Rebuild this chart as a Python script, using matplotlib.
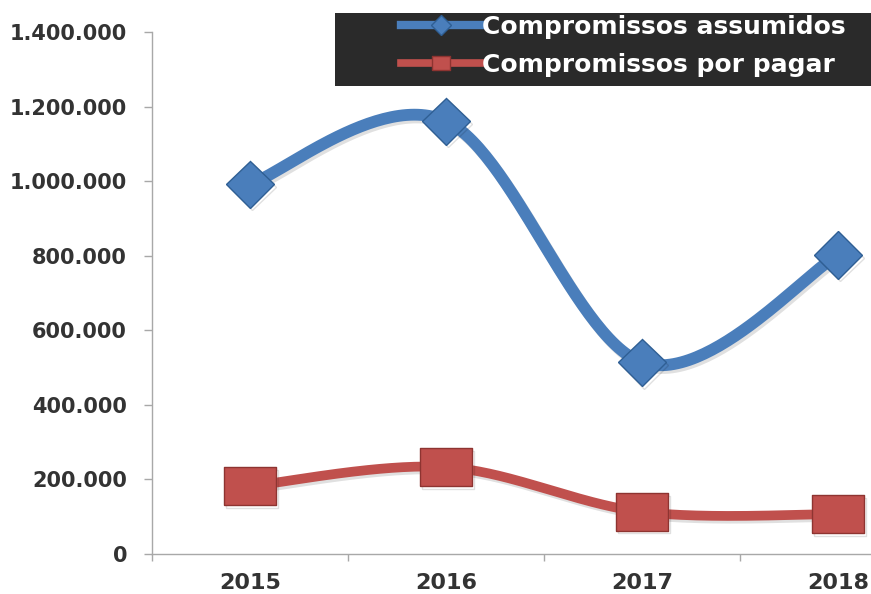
import numpy as np
import matplotlib
matplotlib.use("Agg")
import matplotlib.pyplot as plt
from matplotlib.lines import Line2D
from matplotlib.patches import Rectangle
from matplotlib.ticker import FuncFormatter, FixedLocator
import matplotlib.patheffects as pe

years = ["2015", "2016", "2017", "2018"]
assumidos = [992000, 1161000, 514000, 802000]
por_pagar = [182000, 233000, 113000, 107000]
series_names = ["Compromissos assumidos", "Compromissos por pagar"]

BLUE = "#4A7EBB"
BLUE_DARK = "#2F5F94"
RED = "#C0504D"
RED_DARK = "#8E3431"


def smooth(xs, ys, n=60):
    """Catmull-Rom style bezier smoothing similar to Excel's smoothed lines."""
    P = np.column_stack([xs, ys]).astype(float)
    Pext = np.vstack([P[0], P, P[-1]])
    out = []
    for i in range(len(P) - 1):
        p0, p1, p2, p3 = Pext[i], Pext[i + 1], Pext[i + 2], Pext[i + 3]
        c1 = p1 + (p2 - p0) / 6.0
        c2 = p2 - (p3 - p1) / 6.0
        t = np.linspace(0, 1, n)[:, None]
        seg = ((1 - t) ** 3) * p1 + 3 * ((1 - t) ** 2) * t * c1 + 3 * (1 - t) * t ** 2 * c2 + t ** 3 * p2
        out.append(seg if i == 0 else seg[1:])
    out = np.vstack(out)
    return out[:, 0], out[:, 1]


W, H = 871, 594
fig = plt.figure(figsize=(W / 100, H / 100), dpi=100)
left, right, top, bottom = 152, 936, 32, 554
ax = fig.add_axes([left / W, 1 - bottom / H, (right - left) / W, (bottom - top) / H])

x = np.arange(len(years))
rect = [(-1.37, -1), (1.37, -1), (1.37, 1), (-1.37, 1), (-1.37, -1)]

shadow = [pe.SimpleLineShadow(offset=(1.5, -2), alpha=0.12, shadow_color="black"), pe.Normal()]

bx, by = smooth(x, assumidos)
ax.plot(bx, by, color=BLUE, lw=8.5, solid_capstyle="round", zorder=2, path_effects=shadow)
ax.plot(x, assumidos, linestyle="none", marker="D", markersize=24, markerfacecolor=BLUE,
        markeredgecolor=BLUE_DARK, markeredgewidth=1.0, zorder=3, path_effects=shadow)

rx, ry = smooth(x, por_pagar)
ax.plot(rx, ry, color=RED, lw=7, solid_capstyle="round", zorder=2, path_effects=shadow)
ax.plot(x, por_pagar, linestyle="none", marker=rect, markersize=37, markerfacecolor=RED,
        markeredgecolor=RED_DARK, markeredgewidth=1.0, zorder=3, path_effects=shadow)

ax.set_xlim(-0.5, len(years) - 0.5)
ax.set_ylim(0, 1400000)
ax.set_yticks(np.arange(0, 1400001, 200000))
ax.yaxis.set_major_formatter(FuncFormatter(lambda v, p: f"{int(v):,}".replace(",", ".")))
ax.set_xticks(x)
ax.set_xticklabels(years)
ax.xaxis.set_minor_locator(FixedLocator(np.arange(-0.5, len(years), 1.0)))

for s in ["top", "right"]:
    ax.spines[s].set_visible(False)
for s in ["left", "bottom"]:
    ax.spines[s].set_color("#A8A8A8")
    ax.spines[s].set_linewidth(1.0)

ax.tick_params(axis="y", direction="out", length=6, width=1, color="#A8A8A8", pad=12,
               labelsize=15, labelcolor="#333333")
ax.tick_params(axis="x", which="major", length=0, pad=14, labelsize=16, labelcolor="#333333")
ax.tick_params(axis="x", which="minor", direction="out", length=5, width=1, color="#A8A8A8")
for lab in ax.get_yticklabels() + ax.get_xticklabels():
    lab.set_fontweight("bold")

# dark legend band (extends past the right edge, as in the reference)
fig.patches.append(Rectangle((335 / W, 1 - 86 / H), 1.0, 73 / H, transform=fig.transFigure,
                             facecolor="#2A2A2A", edgecolor="none", zorder=0))

handles = [
    Line2D([0], [0], color=BLUE, lw=6, marker="D", markersize=10, markerfacecolor=BLUE,
           markeredgecolor=BLUE_DARK),
    Line2D([0], [0], color=RED, lw=5.5, marker=rect, markersize=13, markerfacecolor=RED,
           markeredgecolor=RED_DARK),
]
leg = fig.legend(handles, series_names, loc="upper left", bbox_to_anchor=(401 / W, 1 - 15 / H),
                 frameon=False, handlelength=3.2, handletextpad=0.05, labelspacing=0.55,
                 borderpad=0, borderaxespad=0, prop={"size": 18, "weight": "bold"})
for t in leg.get_texts():
    t.set_color("white")

fig.savefig("out.png", dpi=100)
